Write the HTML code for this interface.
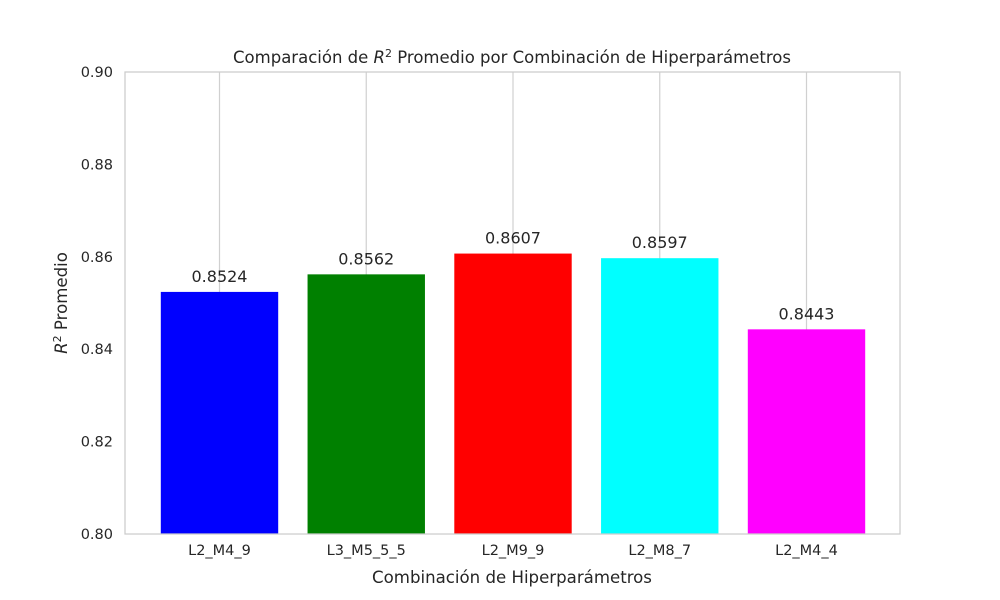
<!DOCTYPE html>
<html><head><meta charset="utf-8"><style>
body{margin:0;background:#fff;}
svg{display:block;font-family:"DejaVu Sans","Liberation Sans",sans-serif;fill:#262626;}
</style></head><body>
<svg id="chart" width="1000" height="600" xmlns="http://www.w3.org/2000/svg">
<rect width="1000" height="600" fill="#fff"/>
<g id="grid"></g>
<g id="bars"></g>
<g id="labels"></g>
<rect x="125" y="72" width="775" height="462" fill="none" stroke="#cccccc" stroke-width="1.25"/>
<g id="yticks"></g>
<g id="xticks"></g>
<text x="512" y="63" text-anchor="middle" font-size="16.5">Comparación de <tspan font-style="italic">R</tspan><tspan font-size="11" dy="-6">2</tspan><tspan dy="6"> Promedio por Combinación de Hiperparámetros</tspan></text>
<text x="512" y="583" text-anchor="middle" font-size="16.6">Combinación de Hiperparámetros</text>
<text transform="translate(67,303) rotate(-90)" text-anchor="middle" font-size="16.6"><tspan font-style="italic">R</tspan><tspan font-size="11" dy="-6">2</tspan><tspan dy="6"> Promedio</tspan></text>
</svg>
<script>
const categories=["L2_M4_9","L3_M5_5_5","L2_M9_9","L2_M8_7","L2_M4_4"];
const values=[0.8524,0.8562,0.8607,0.8597,0.8443];
const colors=["#0000ff","#008000","#ff0000","#00ffff","#ff00ff"];
const yTicks=[0.80,0.82,0.84,0.86,0.88,0.90];
const NS="http://www.w3.org/2000/svg";
const yMin=0.80,yMax=0.90,plotTop=72,plotBot=534;
const xUnit=146.75,x0=219.5;
function X(i){return x0+i*xUnit;}
function Y(v){return plotBot-(v-yMin)/(yMax-yMin)*(plotBot-plotTop);}
function mk(t,a,p){const e=document.createElementNS(NS,t);for(const k in a)e.setAttribute(k,a[k]);p.appendChild(e);return e;}
const grid=document.getElementById('grid'),bars=document.getElementById('bars'),labels=document.getElementById('labels'),yt=document.getElementById('yticks'),xt=document.getElementById('xticks');
categories.forEach((c,i)=>{
  const g=mk('line',{x1:X(i),x2:X(i),y1:plotTop,y2:plotBot,stroke:'#d0d0d0','stroke-width':1.2},grid);
  
  
  const w=0.8*xUnit;
  const b=mk('rect',{x:X(i)-w/2,y:Y(values[i]),width:w,height:plotBot-Y(values[i]),fill:colors[i]},bars);
  
  
  const l=mk('text',{x:X(i),y:Y(values[i])-10,'text-anchor':'middle','font-size':16},labels);
  l.textContent=values[i].toFixed(4);
  
  
  const t=mk('text',{x:X(i),y:plotBot+21,'text-anchor':'middle','font-size':14.5},xt);
  t.textContent=c;
  
  
});
yTicks.forEach(v=>{
  const t=mk('text',{x:113,y:Y(v)+5,'text-anchor':'end','font-size':14.5},yt);
  t.textContent=v.toFixed(2);
  
  
});
</script>
</body></html>
